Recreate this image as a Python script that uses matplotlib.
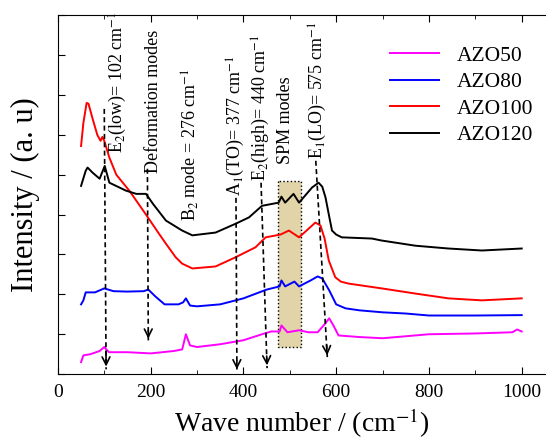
import numpy as np
import matplotlib.pyplot as plt
from matplotlib.ticker import MultipleLocator, NullFormatter

plt.rcParams['font.family'] = ['Liberation Serif', 'DejaVu Serif']
plt.rcParams['mathtext.fontset'] = 'stix'

# Raman spectra (offset, arbitrary units)
x_azo50 = [50, 55, 70, 90, 100, 110, 150, 200, 250, 268, 276, 285, 300, 350, 400, 440, 460, 478,
           482, 495, 520, 540, 560, 575, 585, 595, 605, 650, 700, 750, 800, 900, 980, 990, 1000]
y_azo50 = [0.3, 0.47, 0.5, 0.58, 0.68, 0.55, 0.55, 0.52, 0.58, 0.62, 1.0, 0.72, 0.68, 0.75, 0.85, 1.0,
           1.07, 1.07, 1.22, 1.05, 1.1, 1.05, 1.05, 1.25, 1.4, 1.2, 0.97, 0.93, 0.9, 0.95, 1.0, 1.02,
           1.05, 1.12, 1.07]

x_azo80 = [50, 55, 60, 80, 100, 120, 150, 185, 195, 210, 230, 260, 270, 276, 285, 300, 350, 400, 450,
           478, 482, 490, 510, 520, 545, 560, 570, 585, 600, 620, 650, 700, 750, 800, 900, 1000]
y_azo80 = [1.75, 1.85, 2.05, 2.05, 2.15, 2.08, 2.07, 2.08, 2.12, 1.95, 1.75, 1.75, 1.8, 1.9, 1.72, 1.7,
           1.75, 1.9, 2.12, 2.2, 2.35, 2.2, 2.32, 2.2, 2.35, 2.45, 2.4, 2.1, 1.75, 1.65, 1.6, 1.55, 1.52,
           1.47, 1.47, 1.48]

x_azo100 = [50, 55, 62, 66, 75, 85, 92, 96, 100, 111, 126, 154, 190, 218, 233, 254, 268, 290, 340, 383,
            426, 448, 480, 498, 520, 555, 566, 575, 584, 598, 610, 627, 698, 771, 842, 914, 1000]
y_azo100 = [5.72, 6.3, 6.8, 6.78, 6.4, 6.0, 5.85, 5.95, 5.85, 5.43, 5.0, 4.6, 4.0, 3.52, 3.27, 2.93,
            2.77, 2.65, 2.7, 2.93, 3.18, 3.43, 3.5, 3.6, 3.43, 3.8, 3.73, 3.4, 2.85, 2.43, 2.32, 2.27,
            2.15, 2.02, 1.9, 1.85, 1.9]

x_azo120 = [50, 60, 64, 75, 90, 101, 111, 147, 169, 190, 205, 233, 268, 290, 340, 383, 412, 440, 476,
            482, 490, 508, 520, 548, 562, 570, 577, 585, 591, 600, 612, 677, 698, 771, 842, 914, 1000]
y_azo120 = [4.72, 5.1, 5.18, 5.05, 4.9, 5.22, 4.8, 4.6, 4.52, 4.52, 4.27, 3.85, 3.6, 3.48, 3.55, 3.77,
            3.93, 4.22, 4.3, 4.45, 4.3, 4.52, 4.3, 4.68, 4.8, 4.7, 4.43, 3.95, 3.6, 3.5, 3.43, 3.4, 3.35,
            3.22, 3.15, 3.1, 3.15]

labels = ['AZO50', 'AZO80', 'AZO100', 'AZO120']
colors = ['#ff00ff', '#0000ff', '#ff0000', '#000000']

# mode labels: text, x, bottom y of text
mode_text = [r'E$_2$(low)= 102 cm$^{-1}$', 'Deformation modes', r'B$_2$ mode = 276 cm$^{-1}$',
             r'A$_1$(TO)= 377 cm$^{-1}$', r'E$_2$(high)= 440 cm$^{-1}$', 'SPM modes',
             r'E$_1$(LO)= 575 cm$^{-1}$']
mode_tx = [130, 207, 285, 384, 438, 491, 560]
mode_ty = [5.55, 5.05, 3.85, 4.47, 4.85, 5.27, 5.4]

# dashed arrows: start (top) and tip
arr_x0 = [100, 193, 384, 438, 556]
arr_y0 = [6.65, 5.15, 4.42, 4.8, 5.35]
arr_x1 = [104, 195, 386, 451, 581]
arr_y1 = [0.12, 0.82, 0.05, 0.15, 0.4]

spm_band = (475, 524)
spm_y = (0.68, 4.85)

fig = plt.figure(figsize=(5.46, 4.47), dpi=100)
ax = fig.add_axes([0.106, 0.163, 0.892, 0.803])

ax.fill_between(spm_band, spm_y[0], spm_y[1], facecolor='#e0d4a8', edgecolor='black',
                linestyle=':', linewidth=1.0, zorder=1)

for xs, ys, lab, c in zip([x_azo50, x_azo80, x_azo100, x_azo120],
                          [y_azo50, y_azo80, y_azo100, y_azo120], labels, colors):
    ax.plot(xs, ys, color=c, lw=1.4, label=lab, zorder=3)

for x0, y0, x1, y1 in zip(arr_x0, arr_y0, arr_x1, arr_y1):
    ax.plot([x0, x1], [y0, y1], color='black', ls=(0, (3, 2)), lw=1.2, zorder=4)
    dx, dy = x1 - x0, y1 - y0
    ax.annotate('', xy=(x1, y1), xytext=(x1 - dx * 0.08, y1 - dy * 0.08),
                arrowprops=dict(arrowstyle='->', lw=1.2, color='black', mutation_scale=14), zorder=4)

for t, tx, ty in zip(mode_text, mode_tx, mode_ty):
    ax.text(tx, ty, t, rotation=90, ha='center', va='bottom', fontsize=13)

ax.set_xlim(0, 1050)
ax.set_ylim(0, 9)
ax.xaxis.set_major_locator(MultipleLocator(200))
ax.xaxis.set_minor_locator(MultipleLocator(100))
ax.yaxis.set_major_locator(MultipleLocator(1))
ax.yaxis.set_major_formatter(NullFormatter())
ax.tick_params(which='both', direction='in', top=True, right=False, labelsize=14)
ax.tick_params(which='major', length=5, pad=7)
ax.tick_params(which='minor', length=3)
ax.spines['right'].set_visible(False)

ax.set_xlabel(r'Wave number / (cm$^{-1}$)', fontsize=20, labelpad=4)
ax.set_ylabel('Intensity / (a. u)', fontsize=22, labelpad=6)

ax.legend(loc='upper right', frameon=False, fontsize=15.5, handlelength=2.3,
          labelspacing=0.3, borderaxespad=0.6, bbox_to_anchor=(1.02, 0.975))

fig.savefig('out.png', dpi=100)
